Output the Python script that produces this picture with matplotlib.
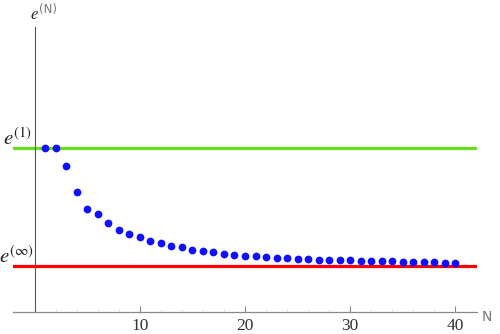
import matplotlib
matplotlib.use("Agg")
import matplotlib.pyplot as plt
from matplotlib.ticker import FixedLocator

plt.rcParams['mathtext.fontset'] = 'stix'

# Data (normalised energy scale: e(inf) = 0, e(1) = 1)
N = list(range(1, 41))
energy = [1.0, 1.0, 0.85, 0.627, 0.486, 0.44, 0.367, 0.305, 0.274, 0.243,
          0.214, 0.192, 0.172, 0.158, 0.138, 0.130, 0.119, 0.102, 0.093, 0.087,
          0.082, 0.076, 0.070, 0.065, 0.062, 0.059, 0.053, 0.051, 0.049, 0.047,
          0.045, 0.042, 0.040, 0.039, 0.037, 0.034, 0.031, 0.030, 0.028, 0.025]
e_one = 1.0
e_inf = 0.0
x_ticks = [10, 20, 30, 40]
x_tick_labels = ["10", "20", "30", "40"]

W, H = 500, 334
fig = plt.figure(figsize=(W / 100, H / 100), dpi=100)

def fx(x):
    return x / W

def fy(y):
    return 1 - y / H

ax = fig.add_axes([fx(13), fy(312), (477 - 13) / W, (312 - 27) / H])
ax.set_xlim(-2.095, 42.095)
ax.set_ylim(-0.39, 2.025)

ax.axhline(e_one, color='#66e01a', lw=2.3, zorder=2)
ax.axhline(e_inf, color='#ff0000', lw=2.3, zorder=2)
ax.plot(N, energy, 'o', color='#1010ff', markersize=5.6, markeredgewidth=0, zorder=3)

for s in ['top', 'right']:
    ax.spines[s].set_visible(False)
ax.spines['left'].set_position(('data', 0))
ax.spines['left'].set_color('#555566')
ax.spines['left'].set_linewidth(0.8)
ax.spines['bottom'].set_color('#888888')
ax.spines['bottom'].set_linewidth(0.9)

ax.set_xticks(x_ticks)
ax.set_xticklabels(x_tick_labels, fontfamily='Liberation Serif', fontsize=12.5, color='#333333')
ax.xaxis.set_minor_locator(FixedLocator([v for v in range(2, 42, 2) if v % 10 != 0]))
ax.tick_params(axis='x', which='major', direction='in', length=4.5, width=0.8,
               color='#888888', pad=4)
ax.tick_params(axis='x', which='minor', direction='in', length=2, width=0.6,
               color='#dddddd')
ax.set_yticks([e_inf, e_one])
ax.set_yticklabels([])
ax.tick_params(axis='y', which='major', direction='in', length=3, width=0.8,
               color='#555555')

# Y tick labels
fig.text(fx(3), fy(145), r'$e^{(1)}$', fontsize=15, ha='left', va='baseline', color='#222222')
fig.text(fx(-1), fy(263), r'$e^{(\infty)}$', fontsize=15, ha='left', va='baseline', color='#222222')

# Axis labels
fig.text(fx(30.5), fy(19), r'$e$', fontsize=12, ha='left', va='baseline', color='#222222')
fig.text(fx(38.5), fy(13), '(N)', fontsize=8.5, family='DejaVu Sans', ha='left', va='baseline', color='#777777')
fig.text(fx(482), fy(321), 'N', fontsize=10, family='DejaVu Sans', ha='left', va='baseline', color='#777777')

fig.savefig('out.png', dpi=100)
